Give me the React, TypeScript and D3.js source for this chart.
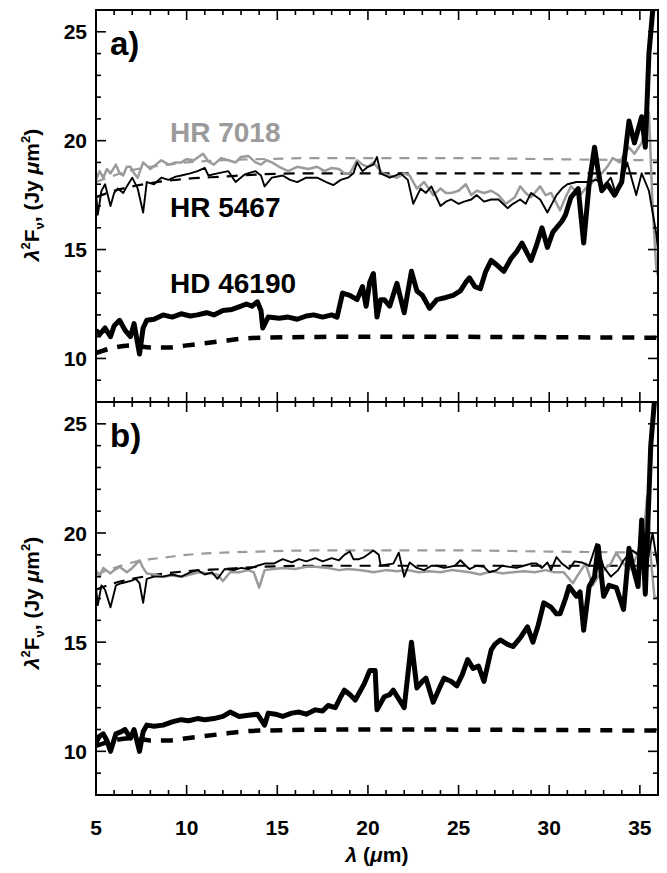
import * as d3 from 'd3';

// [wavelength (um), lambda^2 F_nu (Jy um^2)]
const hr7018A = [[5.0,18.2],[5.2,18.6],[5.4,18.3],[5.6,18.7],[5.8,18.5],[6.1,18.9],[6.3,18.5],[6.5,18.4],[6.7,18.8],[6.9,18.8],[7.1,18.5],[7.3,18.3],[7.6,19.0],[8.0,18.7],[8.3,18.9],[8.6,19.1],[9.0,18.9],[9.4,19.0],[9.7,19.0],[10.0,19.15],[10.4,19.1],[10.9,19.4],[11.2,19.05],[11.5,18.9],[11.9,19.2],[12.3,19.1],[12.7,19.0],[13.0,19.25],[13.4,19.3],[13.8,19.0],[14.1,18.9],[14.4,19.1],[14.7,19.0],[15.1,18.8],[15.6,18.6],[16.1,18.8],[16.7,18.7],[17.2,18.8],[17.6,18.6],[18.0,18.75],[18.4,18.7],[18.7,18.5],[19.0,18.5],[19.4,19.1],[19.7,18.9],[20.0,18.8],[20.3,19.0],[20.8,18.5],[21.2,18.4],[21.6,18.3],[22.0,18.5],[22.3,18.4],[22.7,17.8],[23.1,18.1],[23.6,17.5],[24.0,17.8],[24.3,17.6],[24.6,17.6],[25.0,17.7],[25.4,18.0],[25.7,17.5],[26.0,17.7],[26.4,17.6],[26.8,17.7],[27.2,17.5],[27.6,17.1],[28.1,17.4],[28.4,17.9],[28.7,17.6],[29.0,17.4],[29.5,17.9],[29.8,17.5],[30.1,17.6],[30.6,16.8],[30.9,17.4],[31.2,17.9],[31.7,17.5],[32.0,17.8],[32.3,18.0],[32.6,18.3],[32.9,18.5],[33.2,18.8],[33.5,19.2],[33.9,19.0],[34.2,19.5],[34.4,19.7],[34.7,19.4],[35.1,19.9],[35.3,20.4],[35.5,21.3],[35.7,17.0],[35.9,14.2],[36,13.8]];
const hr5467A = [[5.0,17.6],[5.1,16.6],[5.3,17.7],[5.5,18.0],[5.8,17.0],[6.0,17.6],[6.2,17.8],[6.5,17.6],[6.7,17.9],[7.0,18.3],[7.3,17.8],[7.6,16.7],[7.8,18.1],[8.2,18.0],[8.6,18.3],[9.0,18.2],[9.4,18.35],[9.7,18.4],[10.2,18.5],[10.6,18.6],[11.0,18.75],[11.2,18.4],[11.7,18.5],[12.3,18.6],[12.7,18.1],[13.2,18.45],[13.8,18.6],[14.1,18.4],[14.3,17.9],[14.7,18.3],[15.3,18.4],[15.7,18.2],[16.1,18.1],[16.6,18.3],[17.2,18.3],[17.7,18.1],[18.1,17.96],[18.5,18.2],[18.9,18.3],[19.2,18.5],[19.4,19.0],[19.7,18.6],[20.0,18.8],[20.3,18.9],[20.5,19.25],[20.7,18.5],[21.2,18.3],[21.5,18.4],[21.8,18.5],[22.2,18.2],[22.5,17.1],[22.9,17.8],[23.2,17.6],[23.5,17.9],[24.0,17.0],[24.3,17.2],[24.6,17.3],[25.0,17.1],[25.3,17.2],[25.7,17.3],[26.0,17.5],[26.4,17.2],[26.8,17.3],[27.2,17.3],[27.7,16.9],[28.0,17.1],[28.4,17.3],[28.7,17.1],[29.0,17.6],[29.5,17.3],[29.9,16.7],[30.4,17.5],[30.7,17.8],[31.0,18.0],[31.5,18.1],[32.1,18.1],[32.6,18.2],[33.0,17.9],[33.4,18.3],[33.7,17.5],[34.0,18.1],[34.3,19.0],[34.8,17.5],[35.1,18.5],[35.5,17.7],[35.9,15.75],[36,15.0]];
const hd46190A = [[5.0,11.3],[5.2,11.1],[5.5,11.4],[5.8,11.0],[6.0,11.5],[6.3,11.75],[6.6,11.3],[6.9,11.0],[7.1,11.6],[7.4,10.2],[7.6,11.4],[7.8,11.75],[8.2,11.8],[8.7,12.0],[9.2,11.9],[9.7,12.05],[10.2,11.95],[10.6,12.0],[11.1,12.1],[11.5,12.0],[12.0,12.2],[12.5,12.25],[13.0,12.4],[13.3,12.5],[13.6,12.4],[13.9,12.6],[14.1,12.2],[14.2,11.4],[14.5,11.9],[15.1,11.85],[15.6,11.9],[16.1,11.8],[16.6,11.95],[17.0,12.0],[17.5,11.9],[18.0,12.0],[18.3,11.9],[18.6,13.0],[19.0,12.9],[19.4,12.7],[19.7,13.3],[19.9,12.4],[20.1,13.5],[20.3,13.9],[20.5,11.9],[20.7,12.7],[20.9,12.7],[21.2,12.4],[21.6,13.45],[22.0,12.1],[22.4,14.0],[22.7,13.1],[23.0,12.9],[23.4,12.3],[23.8,12.7],[24.3,12.8],[24.7,12.9],[25.1,13.1],[25.4,13.5],[25.6,13.7],[25.9,13.3],[26.2,13.2],[26.5,14.0],[26.8,14.5],[27.1,14.3],[27.5,14.0],[27.9,14.6],[28.2,14.9],[28.5,15.3],[28.8,14.8],[29.0,14.5],[29.3,15.2],[29.6,16.0],[29.9,15.1],[30.2,15.8],[30.7,16.3],[30.9,16.6],[31.2,17.4],[31.6,17.8],[31.9,15.3],[32.2,18.0],[32.5,19.7],[32.7,18.6],[32.9,17.7],[33.2,18.0],[33.6,17.5],[34.0,18.1],[34.4,20.9],[34.7,19.9],[35.1,21.1],[35.3,19.7],[35.5,24.0],[35.7,25.9],[35.9,27]];

const hr7018B = [[5.0,18.3],[5.2,18.0],[5.4,18.4],[5.8,18.15],[6.0,18.3],[6.3,18.45],[6.7,18.2],[7.0,18.4],[7.4,18.75],[7.6,18.4],[7.8,18.15],[8.2,18.1],[8.7,18.0],[9.2,18.05],[9.7,18.0],[10.2,18.1],[10.7,18.2],[11.2,18.15],[11.7,18.1],[12.0,17.8],[12.4,18.2],[12.9,18.2],[13.4,18.3],[13.7,18.2],[14.0,17.5],[14.3,18.3],[14.8,18.35],[15.3,18.4],[16.0,18.35],[16.6,18.45],[17.1,18.45],[17.8,18.4],[18.4,18.3],[18.9,18.35],[19.5,18.3],[20.0,18.25],[20.3,18.2],[21.0,18.3],[21.6,18.25],[22.2,18.3],[22.8,18.2],[23.4,18.25],[24.0,18.2],[24.6,18.3],[25.2,18.25],[25.6,18.2],[26.2,18.1],[26.8,18.25],[27.4,18.15],[28.0,18.2],[28.6,18.25],[29.2,18.2],[29.8,18.3],[30.3,18.2],[30.8,18.2],[31.3,17.7],[31.6,18.1],[32.0,18.6],[32.4,17.6],[32.7,18.0],[33.0,18.3],[33.4,18.6],[33.7,19.1],[34.0,18.7],[34.4,18.3],[34.7,18.7],[34.9,19.1],[35.2,19.8],[35.4,21.7],[35.6,18.9],[35.8,17.1],[36,17.0]];
const hr5467B = [[5.0,17.5],[5.1,16.7],[5.3,17.6],[5.5,17.4],[5.8,16.6],[6.1,17.6],[6.4,17.7],[6.9,17.8],[7.2,17.9],[7.4,17.7],[7.6,16.8],[7.8,17.9],[8.2,18.0],[8.7,18.0],[9.2,18.1],[9.7,18.0],[10.2,18.2],[10.6,18.3],[11.0,18.1],[11.4,18.2],[11.7,17.9],[12.1,18.35],[12.6,18.3],[13.0,18.4],[13.4,18.35],[13.9,18.5],[14.3,18.6],[14.8,18.6],[15.3,18.8],[15.8,18.65],[16.2,18.8],[16.6,18.7],[17.1,18.85],[17.5,18.7],[18.0,18.85],[18.4,18.75],[18.7,19.0],[19.0,19.15],[19.2,18.8],[19.5,18.8],[19.8,18.9],[20.3,19.2],[20.6,19.0],[20.7,18.5],[21.0,18.55],[21.4,18.6],[21.7,19.1],[22.0,18.0],[22.3,18.65],[22.7,18.4],[23.1,18.3],[23.5,18.5],[23.8,18.5],[24.2,18.4],[24.5,18.45],[24.8,18.5],[25.1,18.75],[25.4,18.5],[25.6,18.35],[26.0,18.5],[26.4,18.45],[26.7,18.2],[27.1,18.3],[27.4,18.5],[27.8,18.45],[28.2,18.4],[28.6,18.5],[29.0,18.6],[29.3,18.6],[29.6,18.4],[29.9,18.65],[30.1,18.3],[30.4,18.9],[30.7,18.6],[31.1,18.35],[31.4,18.7],[31.8,18.65],[32.2,18.5],[32.6,19.5],[33.0,18.45],[33.4,18.0],[33.8,18.3],[34.1,18.75],[34.6,19.2],[34.9,19.0],[35.1,20.6],[35.4,18.6],[35.7,20.0],[36,18.4]];
const hd46190B = [[5.0,10.4],[5.2,10.7],[5.4,10.8],[5.6,10.5],[5.8,10.0],[6.1,10.8],[6.4,10.9],[6.6,11.0],[6.9,10.6],[7.1,11.0],[7.4,10.0],[7.6,10.9],[7.8,11.2],[8.2,11.15],[8.7,11.2],[9.2,11.35],[9.7,11.45],[10.1,11.4],[10.6,11.5],[11.0,11.45],[11.5,11.5],[12.0,11.6],[12.4,11.8],[12.9,11.6],[13.4,11.65],[13.9,11.7],[14.3,11.2],[14.5,11.75],[14.9,11.7],[15.3,11.6],[15.8,11.75],[16.2,11.8],[16.6,11.7],[17.1,11.9],[17.5,11.85],[17.8,12.1],[18.2,12.0],[18.5,12.5],[18.7,12.8],[19.0,12.6],[19.3,12.35],[19.6,12.8],[19.8,13.1],[20.1,13.7],[20.4,13.7],[20.5,11.9],[20.9,12.5],[21.2,12.6],[21.4,12.8],[21.7,12.4],[22.0,12.0],[22.4,15.0],[22.7,12.9],[23.0,13.2],[23.2,13.35],[23.6,12.25],[24.0,13.0],[24.2,13.35],[24.6,13.2],[24.9,13.0],[25.2,13.5],[25.5,14.2],[25.8,13.8],[26.1,13.9],[26.4,13.2],[26.8,14.65],[27.0,14.9],[27.3,15.1],[27.7,14.9],[28.0,14.8],[28.4,15.2],[28.8,15.7],[29.1,15.0],[29.4,15.8],[29.7,16.8],[30.1,16.6],[30.4,16.3],[30.6,16.3],[30.9,17.0],[31.1,17.55],[31.5,17.1],[31.7,17.3],[31.9,15.55],[32.2,17.55],[32.5,18.0],[32.7,19.4],[33.0,17.1],[33.3,17.6],[33.7,17.5],[34.1,16.5],[34.4,19.3],[34.6,18.5],[34.9,17.55],[35.1,20.6],[35.3,17.2],[35.6,24.0],[35.8,26.0],[36,27]];

// photosphere model fits (dashed)
const fit7018 = [[5,18.1],[6,18.4],[7,18.65],[8,18.8],[9,18.9],[10,19.0],[12,19.1],[14,19.15],[17,19.2],[25,19.2],[30,19.15],[36,19.1]];
const fit5467 = [[5,17.4],[6,17.7],[7,17.9],[8,18.05],[10,18.25],[12,18.35],[14,18.45],[17,18.5],[36,18.5]];
const fit46190 = [[5,10.25],[6,10.5],[7,10.6],[8,10.5],[9,10.5],[10,10.6],[11,10.7],[12,10.8],[13,10.9],[14,10.95],[20,11.0],[36,10.95]];

const starNames = ['HR 7018', 'HR 5467', 'HD 46190'];
const panelLabels = ['a)', 'b)'];
const xTickLabels = [5, 10, 15, 20, 25, 30, 35];
const yTickLabels = [10, 15, 20, 25];

const W = 667;
const H = 873;
const FONT = '"Liberation Sans", Arial, Helvetica, sans-serif';
const GRAY = '#9b9b9b';

const x = d3.scaleLinear().domain([5, 36]).range([96, 658]);

const panels = [
  { top: 10, bottom: 402, label: panelLabels[0], gray: hr7018A, thin: hr5467A, thick: hd46190A, names: true, yLabel: 195 },
  { top: 402, bottom: 795, label: panelLabels[1], gray: hr7018B, thin: hr5467B, thick: hd46190B, names: false, yLabel: 603 },
];

function Panel({ p, idx }) {
  const y = d3.scaleLinear().domain([8, 26]).range([p.bottom, p.top]);
  const line = d3.line().x(d => x(d[0])).y(d => y(d[1]));
  const smooth = d3.line().x(d => x(d[0])).y(d => y(d[1])).curve(d3.curveMonotoneX);
  const [x0, x1] = x.range();
  const clipId = `clip-${idx}`;
  const xMinor = d3.range(5, 37, 1);
  const yMinor = d3.range(9, 26, 1);

  return (
    <g>
      <defs>
        <clipPath id={clipId}>
          <rect x={x0} y={p.top} width={x1 - x0} height={p.bottom - p.top} />
        </clipPath>
      </defs>
      <g clipPath={`url(#${clipId})`} fill="none" strokeLinejoin="round">
        <path d={smooth(fit7018)} stroke={GRAY} strokeWidth={2.2} strokeDasharray="10,8" />
        <path d={smooth(fit5467)} stroke="#000" strokeWidth={2.2} strokeDasharray="11,8" />
        <path d={smooth(fit46190)} stroke="#000" strokeWidth={4.5} strokeDasharray="12,10" />
        <path d={line(p.gray)} stroke={GRAY} strokeWidth={2.5} />
        <path d={line(p.thin)} stroke="#000" strokeWidth={1.9} />
        <path d={line(p.thick)} stroke="#000" strokeWidth={5} />
      </g>

      {/* frame */}
      <rect x={x0} y={p.top} width={x1 - x0} height={p.bottom - p.top} fill="none" stroke="#000" strokeWidth={2} />

      {/* x ticks, bottom and top */}
      {xMinor.map(t => {
        const len = t % 5 === 0 ? 10 : 5;
        return (
          <g key={`xt-${t}`} stroke="#000" strokeWidth={1.6}>
            <line x1={x(t)} x2={x(t)} y1={p.bottom} y2={p.bottom - len} />
            <line x1={x(t)} x2={x(t)} y1={p.top} y2={p.top + len} />
          </g>
        );
      })}

      {/* y ticks, left and right */}
      {yMinor.map(t => {
        const len = t % 5 === 0 ? 10 : 5;
        return (
          <g key={`yt-${t}`} stroke="#000" strokeWidth={1.6}>
            <line x1={x0} x2={x0 + len} y1={y(t)} y2={y(t)} />
            <line x1={x1} x2={x1 - len} y1={y(t)} y2={y(t)} />
          </g>
        );
      })}

      {yTickLabels.map(t => (
        <text key={`yl-${t}`} x={87} y={y(t)} dy="0.36em" textAnchor="end"
          fontFamily={FONT} fontWeight="bold" fontSize={21} fill="#000">
          {t}
        </text>
      ))}

      <text x={110} y={p.top + 45} fontFamily={FONT} fontWeight="bold" fontSize={33} fill="#000">
        {p.label}
      </text>

      <text transform={`translate(39,${p.yLabel}) rotate(-90)`} textAnchor="middle"
        fontFamily={FONT} fontWeight="bold" fontSize={21} fill="#000">
        <tspan fontStyle="italic">λ</tspan>
        <tspan fontSize={13} dy={-9}>2</tspan>
        <tspan dy={9}>F</tspan>
        <tspan fontSize={13} dy={5}>ν</tspan>
        <tspan dy={-5}>, (Jy </tspan>
        <tspan fontStyle="italic">μ</tspan>
        <tspan>m</tspan>
        <tspan fontSize={13} dy={-9}>2</tspan>
        <tspan dy={9}>)</tspan>
      </text>

      {p.names && (
        <g fontFamily={FONT} fontWeight="bold" fontSize={28}>
          <text x={170} y={142} fill={GRAY}>{starNames[0]}</text>
          <text x={170} y={217} fill="#000">{starNames[1]}</text>
          <text x={170} y={293} fill="#000">{starNames[2]}</text>
        </g>
      )}
    </g>
  );
}

export default function App() {
  return (
    <svg width={W} height={H} viewBox={`0 0 ${W} ${H}`}
      style={{ position: 'absolute', left: 0, top: 0, background: '#fff' }}>
      <rect width={W} height={H} fill="#fff" />
      {panels.map((p, i) => <Panel key={i} p={p} idx={i} />)}
      {xTickLabels.map(t => (
        <text key={`xl-${t}`} x={x(t)} y={835} textAnchor="middle"
          fontFamily={FONT} fontWeight="bold" fontSize={21} fill="#000">
          {t}
        </text>
      ))}
      <text x={377} y={862} textAnchor="middle" fontFamily={FONT} fontWeight="bold" fontSize={21} fill="#000">
        <tspan fontStyle="italic">λ</tspan>
        <tspan> (</tspan>
        <tspan fontStyle="italic">μ</tspan>
        <tspan>m)</tspan>
      </text>
    </svg>
  );
}
